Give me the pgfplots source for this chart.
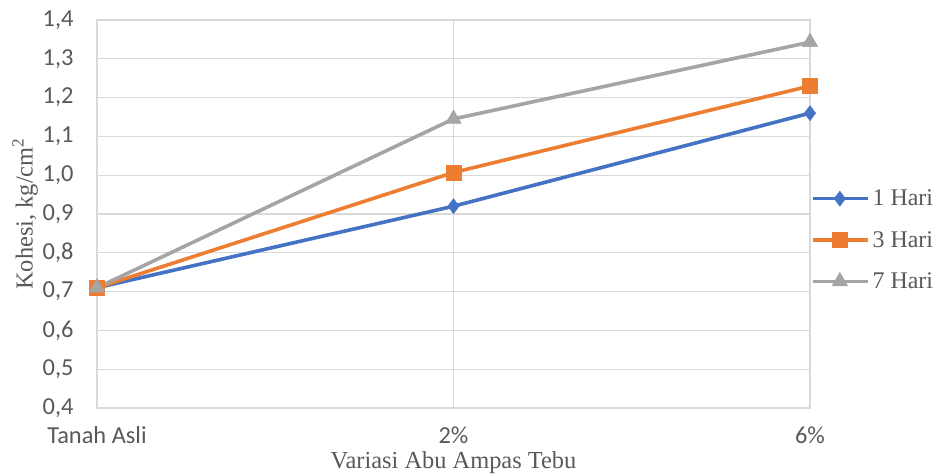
\documentclass[border=0pt]{standalone}
\usepackage{pgfplots}
\pgfplotsset{compat=1.18}
\usepackage{fontspec}
\setmainfont{Liberation Serif}
\newfontfamily\calibri{Carlito}

\definecolor{s1}{HTML}{4472C4}
\definecolor{s2}{HTML}{ED7D31}
\definecolor{s3}{HTML}{A5A5A5}
\definecolor{gridc}{HTML}{D9D9D9}
\definecolor{txt}{HTML}{595959}

\begin{document}
\begin{tikzpicture}
\begin{axis}[
  scale only axis,
  width=713bp, height=388bp,
  xmin=0, xmax=2,
  ymin=0.4, ymax=1.4,
  xtick={0,1,2},
  xticklabels={Tanah Asli,2\%,6\%},
  ytick={0.4,0.5,...,1.41},
  yticklabel style={/pgf/number format/use comma,/pgf/number format/fixed,
    /pgf/number format/fixed zerofill,/pgf/number format/precision=1},
  /pgf/number format/assume math mode=true,
  tick label style={font=\calibri\fontsize{24.5}{28}\selectfont, text=txt},
  xticklabel style={yshift=-15bp},
  yticklabel style={xshift=-20bp},
  major tick length=0pt,
  grid=major,
  grid style={gridc, line width=1.3bp},
  axis line style={gridc, line width=1.3bp},
  xlabel={Variasi Abu Ampas Tebu},
  ylabel={Kohesi, kg/cm\textsuperscript{2}},
  label style={font=\fontsize{24.5}{28}\selectfont, text=txt},
  xlabel style={at={(axis description cs:0.5,-0.142)}, anchor=center},
  ylabel style={at={(axis description cs:-0.101,0.5)}, anchor=center},
  legend style={
    at={(axis description cs:0.997,0.433)}, anchor=west,
    draw=none, fill=none,
    font=\fontsize{24}{28}\selectfont, text=txt,
    row sep=18bp,
    nodes={inner sep=3bp},
  },
  legend cell align=left,
  legend image code/.code={%
    \draw[mark repeat=2,mark phase=2] plot coordinates {(0bp,0bp)(27bp,0bp)(55bp,0bp)};},
  every axis plot/.append style={line width=3.6bp, line join=round},
  clip=false,
]
\addplot[s1, mark=diamond*, mark size=7.5bp, mark options={solid, line width=0.5bp}]
  coordinates {(0,0.71) (1,0.92) (2,1.16)};
\addlegendentry{1 Hari}
\addplot[s2, mark=square*, mark size=7.5bp, mark options={solid, line width=0.5bp}]
  coordinates {(0,0.71) (1,1.007) (2,1.23)};
\addlegendentry{3 Hari}
\addplot[s3, mark=triangle*, mark size=9bp, mark options={solid, line width=0.5bp}]
  coordinates {(0,0.71) (1,1.145) (2,1.343)};
\addlegendentry{7 Hari}
\end{axis}
\pgfresetboundingbox
\path[use as bounding box] (-97bp,-68bp) rectangle (845bp,408bp);
\end{tikzpicture}
\end{document}
